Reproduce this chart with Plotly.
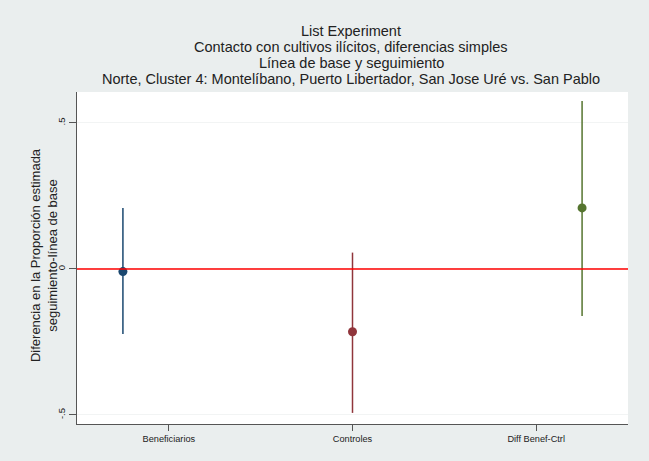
import plotly.graph_objects as go

# data
groups = ['Beneficiarios', 'Controles', 'Diff Benef-Ctrl']
tick_pos = [1, 2, 3]
point_pos = [0.75, 2, 3.25]
estimates = [-0.009, -0.215, 0.209]
ci_low = [-0.223, -0.493, -0.161]
ci_high = [0.209, 0.056, 0.575]
colors = ['#1a476f', '#90353b', '#55752f']

title_lines = [
    'List Experiment',
    'Contacto con cultivos ilícitos, diferencias simples',
    'Línea de base y seguimiento',
    'Norte, Cluster 4: Montelíbano, Puerto Libertador, San Jose Uré vs. San Pablo',
]

fig = go.Figure()

# zero line
fig.add_hline(y=0, line_color='#ff0000', line_width=1.5)

for i in range(len(groups)):
    fig.add_trace(go.Scatter(
        x=[point_pos[i]], y=[estimates[i]],
        mode='markers',
        marker=dict(color=colors[i], size=9),
        error_y=dict(
            type='data', symmetric=False,
            array=[ci_high[i] - estimates[i]],
            arrayminus=[estimates[i] - ci_low[i]],
            color=colors[i], thickness=1.5, width=0,
        ),
        showlegend=False,
    ))

# title lines
for k, line in enumerate(title_lines):
    fig.add_annotation(
        text=line, xref='paper', yref='paper',
        x=0.498, y=(424 - (31 + 16 * k)) / 332,
        xanchor='center', yanchor='middle', showarrow=False,
        font=dict(size=14.5, color='#222222'),
    )

# y axis title
fig.add_annotation(
    text='Diferencia en la Proporción estimada<br>seguimiento-línea de base',
    xref='paper', yref='paper', x=-0.061, y=0.51,
    xanchor='center', yanchor='middle', textangle=-90, showarrow=False,
    font=dict(size=13, color='#222222'),
)

fig.update_layout(
    width=649, height=461,
    margin=dict(l=77, r=21, t=92, b=37),
    paper_bgcolor='#eaeeee',
    plot_bgcolor='#ffffff',
    font=dict(family='Liberation Sans, Arial, sans-serif', color='#222222'),
    xaxis=dict(
        range=[0.5, 3.5], tickvals=tick_pos, ticktext=groups,
        showgrid=False, zeroline=False,
        showline=True, linecolor='#555555', linewidth=1,
        ticks='outside', ticklen=6, tickcolor='#555555',
        tickfont=dict(size=9.2, color='#222222'),
    ),
    yaxis=dict(
        range=[-0.531, 0.606], tickvals=[-0.5, 0, 0.5], ticktext=['-.5', '0', '.5'],
        tickangle=-90,
        showgrid=True, gridcolor='#f2f4f4', zeroline=False,
        showline=True, linecolor='#555555', linewidth=1,
        ticks='outside', ticklen=7, tickcolor='#555555',
        tickfont=dict(size=9.5, color='#222222'),
    ),
)

# drop the browser's default page margin so the figure fills the window
fig.write_html('out.html', config={'displayModeBar': False},
               post_script="document.body.style.margin='0';")
